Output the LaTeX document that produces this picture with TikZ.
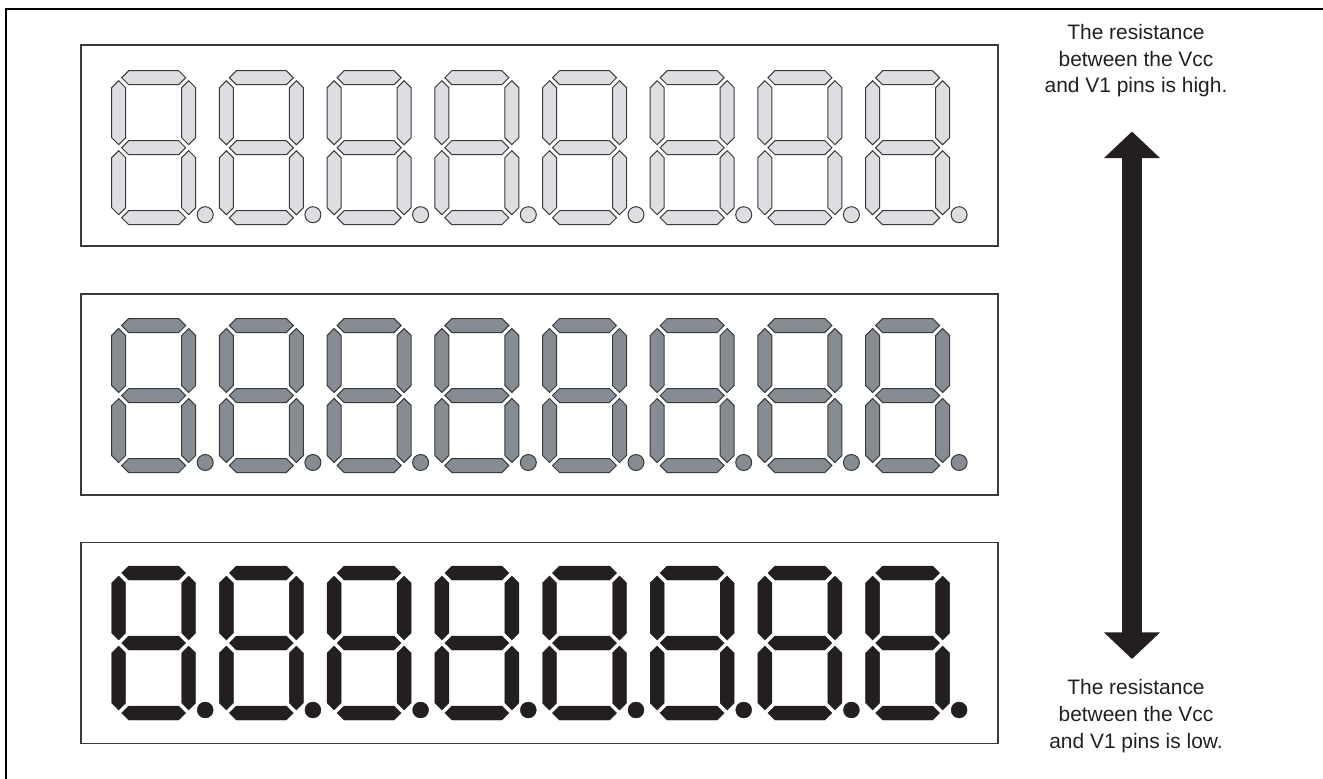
\documentclass[tikz,border=0pt]{standalone}
\usepackage{fontspec}
\setmainfont{Liberation Sans}
\usetikzlibrary{arrows.meta}
\definecolor{segoff}{HTML}{DCDEE1}
\definecolor{segmid}{HTML}{868C92}
\definecolor{segon}{HTML}{231F20}
\definecolor{segline}{HTML}{3A3A3A}

% one seven-segment digit with its decimal point, #1 = top left corner, #2 = segment style
\newcommand{\segdigit}[2]{%
  \begin{scope}[shift={#1}]
    \foreach \yc in {7,77,147}
      \path[#2] (10,\yc) -- (17,\yc-7) -- (67,\yc-7) -- (74,\yc) -- (67,\yc+7) -- (17,\yc+7) -- cycle;
    \foreach \xc in {7,77}
      \foreach \ya in {10,80}
        \path[#2] (\xc,\ya) -- (\xc+7,\ya+7) -- (\xc+7,\ya+57) -- (\xc,\ya+64) -- (\xc-7,\ya+57) -- (\xc-7,\ya+7) -- cycle;
    \path[#2] (93.5,144) circle (8);
  \end{scope}}

\begin{document}
\begin{tikzpicture}[
    x=0.75pt, y=-0.75pt,
    panel/.style={draw=segline, line width=1.4pt, inner sep=0pt,
      minimum width=687.75pt, minimum height=150.75pt},
    dimseg/.style={fill=segoff, draw=segline, line width=0.75pt, line join=miter},
    midseg/.style={fill=segmid, draw=segline, line width=0.75pt, line join=miter},
    brightseg/.style={fill=segon, draw=segon, line width=0.3pt},
    note/.style={align=center, inner sep=0pt, font=\fontsize{15.7}{20}\selectfont, text=segon},
    bigarrow/.style={{Triangle[width=41pt, length=20pt]}-{Triangle[width=41pt, length=20pt]},
      line width=15.5pt, draw=segon}
  ]
    \useasboundingbox (0,0) rectangle (1323,778);
    \clip (0,0) rectangle (1323,778);
    \draw[line width=1.8pt] (6,9) rectangle (1400,900);

    \node[panel] (dimpanel) at (539.5,145.5) {};
    \node[panel] (midpanel) at (539.5,394.5) {};
    \node[panel] (brightpanel) at (539.5,643) {};

    \foreach \i in {0,...,7} {
      \segdigit{(111.7+107.7*\i,70.7)}{dimseg}
      \segdigit{(111.7+107.7*\i,318.5)}{midseg}
      \segdigit{(111.7+107.7*\i,566)}{brightseg}
    }

    \node[note, anchor=north] (hightext) at (1136,24) {The resistance\\between the Vcc\\and V1 pins is high.};
    \node[note, anchor=north] (lowtext) at (1136,679.5) {The resistance\\between the Vcc\\and V1 pins is low.};

    \coordinate (hightip) at (1132,131.5);
    \coordinate (lowtip) at (1132,659);
    \draw[bigarrow] (hightip) -- (lowtip);
  \end{tikzpicture}
\end{document}
